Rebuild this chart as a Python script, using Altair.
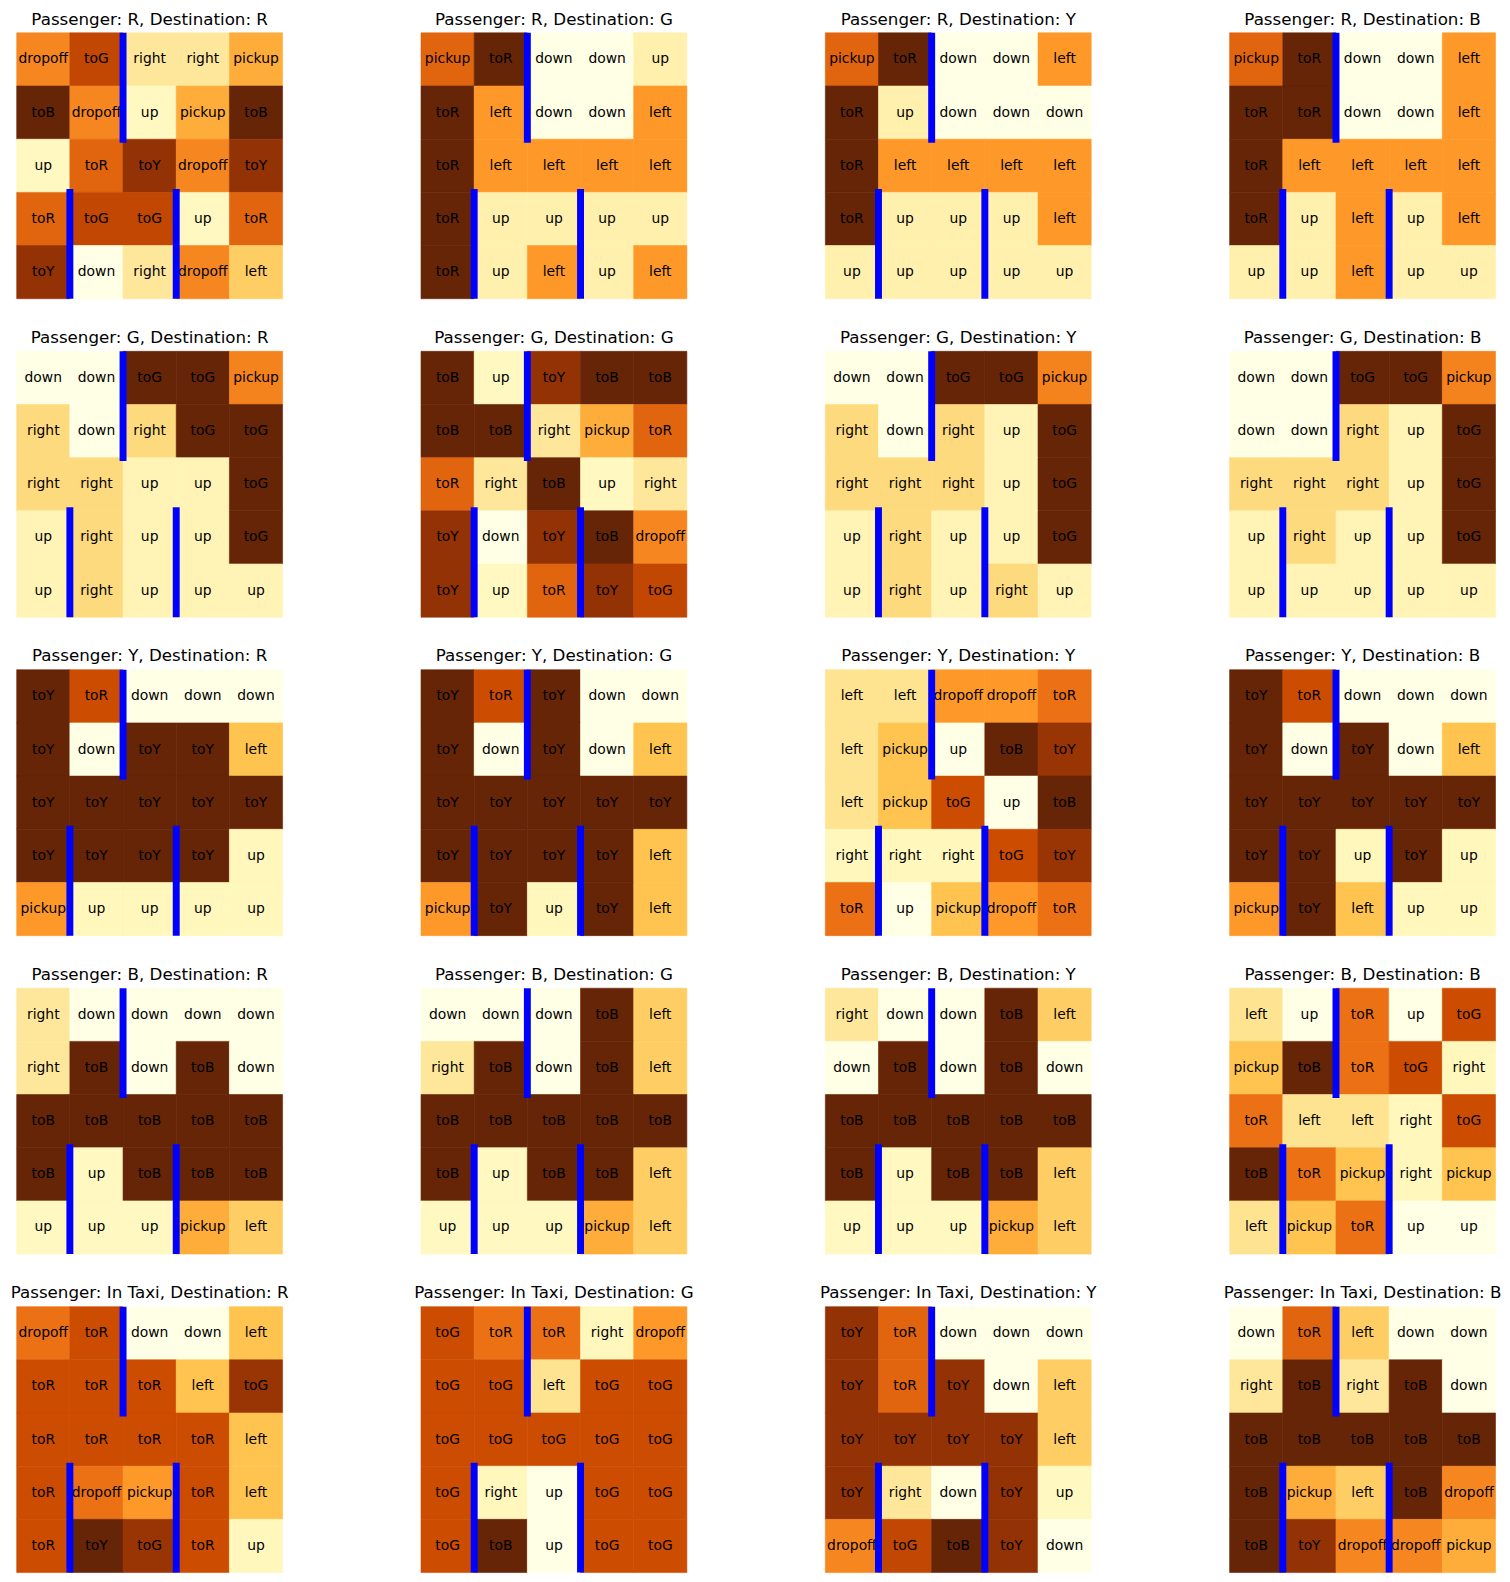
import altair as alt
import pandas as pd

ACTIONS = ["down", "up", "right", "left", "pickup", "dropoff", "toR", "toG", "toY", "toB"]
PASSENGERS = ["R", "G", "Y", "B", "In Taxi"]
DESTINATIONS = ["R", "G", "Y", "B"]
YLORBR = ["#ffffe5", "#fff7bc", "#fee391", "#fec44f", "#fe9929",
          "#ec7014", "#cc4c02", "#993404", "#662506"]

# Walls of the taxi map (x position, y start, y end in grid units)
WALL_X = [1.5, 0.5, 2.5]
WALL_Y0 = [-0.5, 2.5, 2.5]
WALL_Y1 = [1.5, 4.5, 4.5]

R_R = [["dropoff", "toG", "right", "right", "pickup"],
       ["toB", "dropoff", "up", "pickup", "toB"],
       ["up", "toR", "toY", "dropoff", "toY"],
       ["toR", "toG", "toG", "up", "toR"],
       ["toY", "down", "right", "dropoff", "left"]]
R_G = [["pickup", "toR", "down", "down", "up"],
       ["toR", "left", "down", "down", "left"],
       ["toR", "left", "left", "left", "left"],
       ["toR", "up", "up", "up", "up"],
       ["toR", "up", "left", "up", "left"]]
R_Y = [["pickup", "toR", "down", "down", "left"],
       ["toR", "up", "down", "down", "down"],
       ["toR", "left", "left", "left", "left"],
       ["toR", "up", "up", "up", "left"],
       ["up", "up", "up", "up", "up"]]
R_B = [["pickup", "toR", "down", "down", "left"],
       ["toR", "toR", "down", "down", "left"],
       ["toR", "left", "left", "left", "left"],
       ["toR", "up", "left", "up", "left"],
       ["up", "up", "left", "up", "up"]]
G_R = [["down", "down", "toG", "toG", "pickup"],
       ["right", "down", "right", "toG", "toG"],
       ["right", "right", "up", "up", "toG"],
       ["up", "right", "up", "up", "toG"],
       ["up", "right", "up", "up", "up"]]
G_G = [["toB", "up", "toY", "toB", "toB"],
       ["toB", "toB", "right", "pickup", "toR"],
       ["toR", "right", "toB", "up", "right"],
       ["toY", "down", "toY", "toB", "dropoff"],
       ["toY", "up", "toR", "toY", "toG"]]
G_Y = [["down", "down", "toG", "toG", "pickup"],
       ["right", "down", "right", "up", "toG"],
       ["right", "right", "right", "up", "toG"],
       ["up", "right", "up", "up", "toG"],
       ["up", "right", "up", "right", "up"]]
G_B = [["down", "down", "toG", "toG", "pickup"],
       ["down", "down", "right", "up", "toG"],
       ["right", "right", "right", "up", "toG"],
       ["up", "right", "up", "up", "toG"],
       ["up", "up", "up", "up", "up"]]
Y_R = [["toY", "toR", "down", "down", "down"],
       ["toY", "down", "toY", "toY", "left"],
       ["toY", "toY", "toY", "toY", "toY"],
       ["toY", "toY", "toY", "toY", "up"],
       ["pickup", "up", "up", "up", "up"]]
Y_G = [["toY", "toR", "toY", "down", "down"],
       ["toY", "down", "toY", "down", "left"],
       ["toY", "toY", "toY", "toY", "toY"],
       ["toY", "toY", "toY", "toY", "left"],
       ["pickup", "toY", "up", "toY", "left"]]
Y_Y = [["left", "left", "dropoff", "dropoff", "toR"],
       ["left", "pickup", "up", "toB", "toY"],
       ["left", "pickup", "toG", "up", "toB"],
       ["right", "right", "right", "toG", "toY"],
       ["toR", "up", "pickup", "dropoff", "toR"]]
Y_B = [["toY", "toR", "down", "down", "down"],
       ["toY", "down", "toY", "down", "left"],
       ["toY", "toY", "toY", "toY", "toY"],
       ["toY", "toY", "up", "toY", "up"],
       ["pickup", "toY", "left", "up", "up"]]
B_R = [["right", "down", "down", "down", "down"],
       ["right", "toB", "down", "toB", "down"],
       ["toB", "toB", "toB", "toB", "toB"],
       ["toB", "up", "toB", "toB", "toB"],
       ["up", "up", "up", "pickup", "left"]]
B_G = [["down", "down", "down", "toB", "left"],
       ["right", "toB", "down", "toB", "left"],
       ["toB", "toB", "toB", "toB", "toB"],
       ["toB", "up", "toB", "toB", "left"],
       ["up", "up", "up", "pickup", "left"]]
B_Y = [["right", "down", "down", "toB", "left"],
       ["down", "toB", "down", "toB", "down"],
       ["toB", "toB", "toB", "toB", "toB"],
       ["toB", "up", "toB", "toB", "left"],
       ["up", "up", "up", "pickup", "left"]]
B_B = [["left", "up", "toR", "up", "toG"],
       ["pickup", "toB", "toR", "toG", "right"],
       ["toR", "left", "left", "right", "toG"],
       ["toB", "toR", "pickup", "right", "pickup"],
       ["left", "pickup", "toR", "up", "up"]]
T_R = [["dropoff", "toR", "down", "down", "left"],
       ["toR", "toR", "toR", "left", "toG"],
       ["toR", "toR", "toR", "toR", "left"],
       ["toR", "dropoff", "pickup", "toR", "left"],
       ["toR", "toY", "toG", "toR", "up"]]
T_G = [["toG", "toR", "toR", "right", "dropoff"],
       ["toG", "toG", "left", "toG", "toG"],
       ["toG", "toG", "toG", "toG", "toG"],
       ["toG", "right", "up", "toG", "toG"],
       ["toG", "toB", "up", "toG", "toG"]]
T_Y = [["toY", "toR", "down", "down", "down"],
       ["toY", "toR", "toY", "down", "left"],
       ["toY", "toY", "toY", "toY", "left"],
       ["toY", "right", "down", "toY", "up"],
       ["dropoff", "toG", "toB", "toY", "down"]]
T_B = [["down", "toR", "left", "down", "down"],
       ["right", "toB", "right", "toB", "down"],
       ["toB", "toB", "toB", "toB", "toB"],
       ["toB", "pickup", "left", "toB", "dropoff"],
       ["toB", "toY", "dropoff", "dropoff", "pickup"]]

GRIDS = [[R_R, R_G, R_Y, R_B],
         [G_R, G_G, G_Y, G_B],
         [Y_R, Y_G, Y_Y, Y_B],
         [B_R, B_G, B_Y, B_B],
         [T_R, T_G, T_Y, T_B]]

rows = []
for pi, p in enumerate(PASSENGERS):
    for di, d in enumerate(DESTINATIONS):
        title = f"Passenger: {p}, Destination: {d}"
        grid = GRIDS[pi][di]
        for r in range(5):
            for c in range(5):
                name = grid[r][c]
                rows.append({"panel": title, "row": r, "col": c,
                             "action": name, "a": ACTIONS.index(name)})
cells = pd.DataFrame(rows)
walls = pd.DataFrame({"wx": WALL_X, "wy0": WALL_Y0, "wy1": WALL_Y1})

FONT = "DejaVu Sans"
xs = alt.Scale(domain=[-0.5, 4.5], nice=False, zero=False)
ys = alt.Scale(domain=[-0.5, 4.5], nice=False, zero=False, reverse=True)
stops = [i / 8 for i in range(9)]
cs = alt.Scale(domain=stops, range=YLORBR, interpolate="rgb")


def panel(title):
    base = alt.Chart(cells).transform_filter(alt.datum.panel == title)
    heat = base.transform_joinaggregate(
        mn="min(a)", mx="max(a)"
    ).transform_calculate(
        v="(datum.a - datum.mn) / (datum.mx - datum.mn)",
        x0="datum.col - 0.5", x1="datum.col + 0.5",
        y0="datum.row - 0.5", y1="datum.row + 0.5",
    ).mark_rect(strokeWidth=0.6).encode(
        x=alt.X("x0:Q", scale=xs, axis=None),
        x2="x1:Q",
        y=alt.Y("y0:Q", scale=ys, axis=None),
        y2="y1:Q",
        color=alt.Color("v:Q", scale=cs, legend=None),
        stroke=alt.Stroke("v:Q", scale=cs, legend=None),
    )
    txt = base.mark_text(font=FONT, fontSize=13.9, color="black",
                         align="center", baseline="middle").encode(
        x=alt.X("col:Q", scale=xs, axis=None),
        y=alt.Y("row:Q", scale=ys, axis=None),
        text="action:N",
    )
    wl = alt.Chart(walls).mark_rule(color="#0000ff", strokeWidth=6.94,
                                    strokeCap="square", clip=True).encode(
        x=alt.X("wx:Q", scale=xs, axis=None),
        y=alt.Y("wy0:Q", scale=ys, axis=None),
        y2="wy1:Q",
    )
    return alt.layer(heat, txt, wl).properties(
        width=266, height=266,
        title=alt.TitleParams(text=title, font=FONT, fontSize=16.7,
                              fontWeight="normal", color="black",
                              baseline="alphabetic", offset=10, dy=18.7),
    )


charts = [panel(f"Passenger: {p}, Destination: {d}")
          for p in PASSENGERS for d in DESTINATIONS]

chart = alt.concat(*charts, columns=4, bounds="flush",
                   spacing={"row": 52.6, "column": 138.5}).properties(
    padding={"left": 2.7, "top": 2.5, "right": 0, "bottom": 0}
).configure_view(stroke=None)

chart.save("out.html", embed_options={"renderer": "svg", "actions": False})
